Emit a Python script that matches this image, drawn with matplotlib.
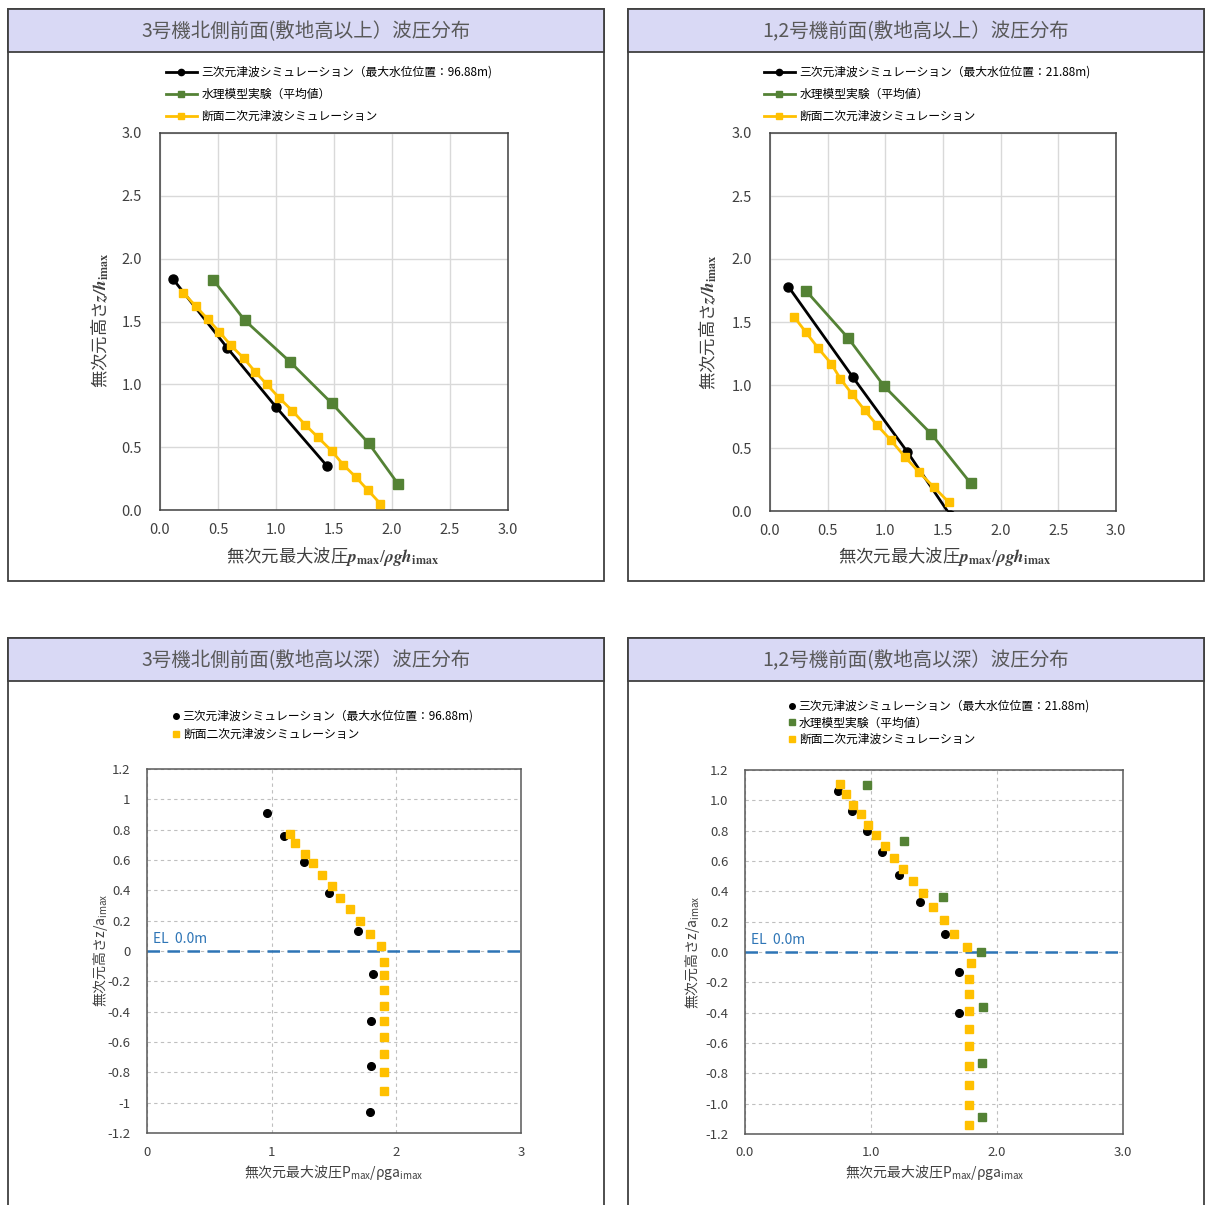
import matplotlib
matplotlib.use('Agg')
import matplotlib.pyplot as plt
from matplotlib.lines import Line2D
from matplotlib.patches import Rectangle
from matplotlib.ticker import FuncFormatter

plt.rcParams['font.family'] = ['Noto Sans CJK JP', 'DejaVu Sans']

# ---- data ----
# top-left: unit 3 north side, above ground level
tl_3d_x = [0.11, 0.58, 1.00, 1.44]
tl_3d_y = [1.84, 1.29, 0.82, 0.35]
tl_exp_x = [0.46, 0.73, 1.12, 1.48, 1.80, 2.05]
tl_exp_y = [1.83, 1.51, 1.18, 0.85, 0.53, 0.21]
tl_2d_x = [0.20, 0.31, 0.41, 0.51, 0.61, 0.72, 0.82, 0.92, 1.03, 1.14, 1.25, 1.36,
           1.48, 1.58, 1.69, 1.79, 1.90]
tl_2d_y = [1.73, 1.62, 1.52, 1.42, 1.31, 1.21, 1.10, 1.00, 0.89, 0.79, 0.68, 0.58,
           0.47, 0.36, 0.26, 0.16, 0.05]

# top-right: units 1,2 front, above ground level
tr_3d_x = [0.16, 0.72, 1.19, 1.56]
tr_3d_y = [1.78, 1.06, 0.47, -0.03]
tr_exp_x = [0.31, 0.68, 0.99, 1.40, 1.74]
tr_exp_y = [1.75, 1.37, 0.99, 0.61, 0.22]
tr_2d_x = [0.21, 0.31, 0.42, 0.53, 0.61, 0.71, 0.82, 0.93, 1.05, 1.17, 1.29, 1.42, 1.55]
tr_2d_y = [1.54, 1.42, 1.29, 1.17, 1.05, 0.93, 0.80, 0.68, 0.56, 0.43, 0.31, 0.19, 0.07]

# bottom-left: unit 3 north side, below ground level
bl_3d_x = [0.96, 1.10, 1.26, 1.46, 1.69, 1.81, 1.80, 1.80, 1.79]
bl_3d_y = [0.91, 0.76, 0.59, 0.38, 0.13, -0.15, -0.46, -0.76, -1.06]
bl_2d_x = [1.15, 1.19, 1.27, 1.33, 1.40, 1.48, 1.55, 1.63, 1.71, 1.79, 1.88,
           1.90, 1.90, 1.90, 1.90, 1.90, 1.90, 1.90, 1.90, 1.90]
bl_2d_y = [0.77, 0.71, 0.64, 0.58, 0.50, 0.43, 0.35, 0.28, 0.20, 0.11, 0.03,
           -0.07, -0.16, -0.26, -0.36, -0.46, -0.57, -0.68, -0.80, -0.92]

# bottom-right: units 1,2 front, below ground level
br_3d_x = [0.74, 0.85, 0.97, 1.09, 1.22, 1.39, 1.59, 1.70, 1.70]
br_3d_y = [1.06, 0.93, 0.80, 0.66, 0.51, 0.33, 0.12, -0.13, -0.40]
br_exp_x = [0.97, 1.26, 1.57, 1.87, 1.89, 1.88, 1.88]
br_exp_y = [1.10, 0.73, 0.36, 0.00, -0.36, -0.73, -1.09]
br_2d_x = [0.75, 0.80, 0.86, 0.92, 0.98, 1.04, 1.11, 1.18, 1.25, 1.33, 1.41, 1.49,
           1.58, 1.66, 1.76, 1.79, 1.78, 1.78, 1.78, 1.78, 1.78, 1.78, 1.78, 1.78, 1.78]
br_2d_y = [1.11, 1.04, 0.97, 0.91, 0.84, 0.77, 0.70, 0.62, 0.55, 0.47, 0.39, 0.30,
           0.21, 0.12, 0.03, -0.07, -0.18, -0.28, -0.39, -0.51, -0.62, -0.75, -0.88,
           -1.01, -1.14]

titles = ['3号機北側前面(敷地高以上）波圧分布', '1,2号機前面(敷地高以上）波圧分布',
          '3号機北側前面(敷地高以深）波圧分布', '1,2号機前面(敷地高以深）波圧分布']
lab_3d_tl = '三次元津波シミュレーション（最大水位位置：96.88m)'
lab_3d_tr = '三次元津波シミュレーション（最大水位位置：21.88m)'
lab_exp = '水理模型実験（平均値）'
lab_2d = '断面二次元津波シミュレーション'

C_3D = 'black'
C_EXP = '#548235'
C_2D = '#FFC000'
C_EL = '#2E75B6'
HEAD = '#D9D9F5'

W, H = 1207, 1205
fig = plt.figure(figsize=(W / 100, H / 100), dpi=100)


def fx(px):
    return px / W


def fy(py):
    return 1 - py / H


def frame(x0, y0, x1, y1, title):
    # outer panel box with lavender title strip
    fig.patches.append(Rectangle((fx(x0), fy(y1)), fx(x1) - fx(x0), fy(y0) - fy(y1),
                                 transform=fig.transFigure, fill=False,
                                 edgecolor='#404040', lw=1.3, zorder=0))
    fig.patches.append(Rectangle((fx(x0), fy(y0 + 43)), fx(x1) - fx(x0), fy(y0) - fy(y0 + 43),
                                 transform=fig.transFigure, facecolor=HEAD,
                                 edgecolor='#404040', lw=1.3, zorder=0))
    fig.text(fx((x0 + x1) / 2), fy(y0 + 23), title, ha='center', va='center',
             fontsize=14, color='#595959')


def make_ax(l, t, r, b):
    return fig.add_axes([fx(l), fy(b), fx(r) - fx(l), fy(t) - fy(b)])


frame(8, 9, 604, 581, titles[0])
frame(628, 9, 1204, 581, titles[1])
frame(8, 638, 604, 1215, titles[2])
frame(628, 638, 1204, 1215, titles[3])


def style_top(ax):
    ax.set_xlim(0, 3)
    ax.set_ylim(0, 3)
    ax.set_xticks([0, 0.5, 1, 1.5, 2, 2.5, 3])
    ax.set_yticks([0, 0.5, 1, 1.5, 2, 2.5, 3])
    ax.xaxis.set_major_formatter(FuncFormatter(lambda v, p: f'{v:.1f}'))
    ax.yaxis.set_major_formatter(FuncFormatter(lambda v, p: f'{v:.1f}'))
    ax.grid(True, color='#d9d9d9', lw=1)
    ax.set_axisbelow(True)
    ax.tick_params(length=0, labelsize=10.5, labelcolor='#404040')
    ax.tick_params(axis='y', pad=13)
    ax.tick_params(axis='x', pad=9)
    for s in ax.spines.values():
        s.set_color('#404040')
        s.set_linewidth(1.1)


def style_bottom(ax, fmt_x, fmt_y):
    ax.set_xlim(0, 3)
    ax.set_ylim(-1.2, 1.2)
    ax.set_xticks([0, 1, 2, 3])
    ax.set_yticks([round(-1.2 + 0.2 * i, 1) for i in range(13)])
    ax.xaxis.set_major_formatter(FuncFormatter(fmt_x))
    ax.yaxis.set_major_formatter(FuncFormatter(fmt_y))
    ax.grid(True, color='#bfbfbf', lw=0.8, linestyle=(0, (3, 3)))
    ax.set_axisbelow(True)
    ax.tick_params(length=0, labelsize=9.5, labelcolor='#404040')
    ax.tick_params(axis='y', pad=12)
    ax.tick_params(axis='x', pad=9)
    for s in ax.spines.values():
        s.set_color('#595959')
        s.set_linewidth(1.1)
    ax.axhline(0, color=C_EL, lw=1.8, linestyle=(0, (5, 3)), zorder=1.5)
    ax.text(0.05, 0.03, 'EL  0.0m', color=C_EL, fontsize=10, va='bottom', ha='left')


def g_fmt(v, p):
    v = round(v, 1)
    if v == 0:
        return '0'
    return f'{v:g}'


def f1_fmt(v, p):
    v = round(v, 1)
    if v == 0:
        v = 0.0
    return f'{v:.1f}'


top_xlabel = r'無次元最大波圧$\mathbfit{p}_{\mathbf{max}}/\mathbfit{\rho g h}_{\mathbf{imax}}$'
top_ylabel = r'無次元高さ$\mathbfit{z/h}_{\mathbf{imax}}$'
bot_xlabel = r'無次元最大波圧$\mathregular{P_{max}/\rho ga_{imax}}$'
bot_ylabel = r'無次元高さ$\mathregular{z/a_{imax}}$'

# ---- top-left ----
ax = make_ax(160, 133, 508, 510)
style_top(ax)
ax.plot(tl_3d_x, tl_3d_y, color=C_3D, lw=2, marker='o', ms=6.5, zorder=3)
ax.plot(tl_exp_x, tl_exp_y, color=C_EXP, lw=2, marker='s', ms=6.5, zorder=3)
ax.plot(tl_2d_x, tl_2d_y, color=C_2D, lw=2, marker='s', ms=6, zorder=3)
fig.text(fx(333), fy(557), top_xlabel, ha='center', va='center', fontsize=12.5,
         color='#404040', math_fontfamily='stix')
fig.text(fx(100), fy(320), top_ylabel, ha='center', va='center', fontsize=12.5,
         rotation=90, color='#404040', math_fontfamily='stix')

# ---- top-right ----
ax = make_ax(770, 133, 1116, 511)
style_top(ax)
ax.plot(tr_3d_x, tr_3d_y, color=C_3D, lw=2, marker='o', ms=6.5, zorder=3)
ax.plot(tr_exp_x, tr_exp_y, color=C_EXP, lw=2, marker='s', ms=6.5, zorder=3)
ax.plot(tr_2d_x, tr_2d_y, color=C_2D, lw=2, marker='s', ms=6, zorder=3)
fig.text(fx(945), fy(557), top_xlabel, ha='center', va='center', fontsize=12.5,
         color='#404040', math_fontfamily='stix')
fig.text(fx(708), fy(322), top_ylabel, ha='center', va='center', fontsize=12.5,
         rotation=90, color='#404040', math_fontfamily='stix')


def line_handles(lab3d):
    hs = [Line2D([], [], color=C_3D, lw=2, marker='o', ms=4.5),
          Line2D([], [], color=C_EXP, lw=2, marker='s', ms=4.5),
          Line2D([], [], color=C_2D, lw=2, marker='s', ms=4.5)]
    return hs, [lab3d, lab_exp, lab_2d]


for x0, lab in [(166, lab_3d_tl), (764, lab_3d_tr)]:
    hs, ls = line_handles(lab)
    fig.legend(hs, ls, loc='upper left', bbox_to_anchor=(fx(x0), fy(66)),
               frameon=False, fontsize=8.5, handlelength=2.6, handletextpad=0.4,
               labelspacing=0.75, borderpad=0, borderaxespad=0)

# ---- bottom-left ----
ax = make_ax(147, 769, 521, 1133)
style_bottom(ax, g_fmt, g_fmt)
ax.plot(bl_3d_x, bl_3d_y, linestyle='none', color=C_3D, marker='o', ms=5.5, zorder=3)
ax.plot(bl_2d_x, bl_2d_y, linestyle='none', color=C_2D, marker='s', ms=5.5, zorder=3)
fig.text(fx(334), fy(1173), bot_xlabel, ha='center', va='center', fontsize=10,
         color='#404040')
fig.text(fx(100), fy(950), bot_ylabel, ha='center', va='center', fontsize=10,
         rotation=90, color='#404040')
hs = [Line2D([], [], linestyle='none', color=C_3D, marker='o', ms=4),
      Line2D([], [], linestyle='none', color=C_2D, marker='s', ms=4)]
fig.legend(hs, [lab_3d_tl, lab_2d], loc='upper left', bbox_to_anchor=(fx(172), fy(710)),
           frameon=False, fontsize=8.5, handlelength=0.6, handletextpad=0.3,
           labelspacing=0.4, borderpad=0, borderaxespad=0)

# ---- bottom-right ----
ax = make_ax(745, 770, 1123, 1134)
style_bottom(ax, f1_fmt, f1_fmt)
ax.plot(br_3d_x, br_3d_y, linestyle='none', color=C_3D, marker='o', ms=5.5, zorder=3)
ax.plot(br_exp_x, br_exp_y, linestyle='none', color=C_EXP, marker='s', ms=5.5, zorder=3)
ax.plot(br_2d_x, br_2d_y, linestyle='none', color=C_2D, marker='s', ms=5.5, zorder=3)
fig.text(fx(935), fy(1172), bot_xlabel, ha='center', va='center', fontsize=10,
         color='#404040')
fig.text(fx(692), fy(952), bot_ylabel, ha='center', va='center', fontsize=10,
         rotation=90, color='#404040')
hs = [Line2D([], [], linestyle='none', color=C_3D, marker='o', ms=4),
      Line2D([], [], linestyle='none', color=C_EXP, marker='s', ms=4),
      Line2D([], [], linestyle='none', color=C_2D, marker='s', ms=4)]
fig.legend(hs, [lab_3d_tr, lab_exp, lab_2d], loc='upper left',
           bbox_to_anchor=(fx(788), fy(700)), frameon=False, fontsize=8.5,
           handlelength=0.6, handletextpad=0.3, labelspacing=0.3, borderpad=0,
           borderaxespad=0)

fig.savefig('out.png', dpi=100, facecolor='white')
